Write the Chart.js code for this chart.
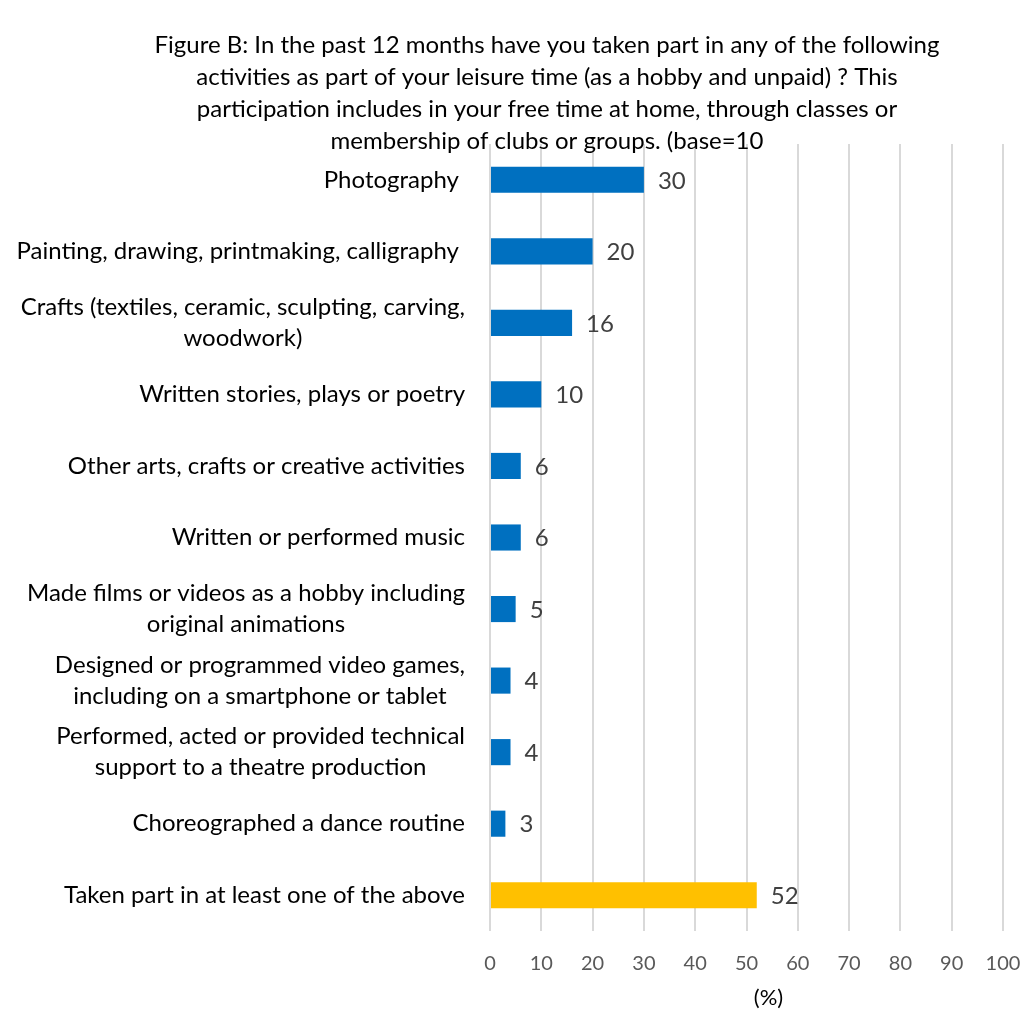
<!DOCTYPE html>
<html>
<head>
<meta charset="utf-8">
<script src="https://cdn.jsdelivr.net/npm/chart.js@4"></script>
<style>
  html, body { margin: 0; padding: 0; background: #fff; }
  #wrap { width: 1024px; height: 1017px; }
</style>
</head>
<body>
<div id="wrap"><canvas id="leisureChart" width="1024" height="1017"></canvas></div>
<script>
// categories (multi-line ones as arrays)
const categories = [
  "Photography ",
  "Painting, drawing, printmaking, calligraphy ",
  ["Crafts (textiles, ceramic, sculpting, carving,", "woodwork)"],
  "Written stories, plays or poetry",
  "Other arts, crafts or creative activities",
  "Written or performed music",
  ["Made films or videos as a hobby including", "original animations"],
  ["Designed or programmed video games,", "including on a smartphone or tablet"],
  ["Performed, acted or provided technical", "support to a theatre production"],
  "Choreographed a dance routine",
  "Taken part in at least one of the above"
];
const percentages = [30, 20, 16, 10, 6, 6, 5, 4, 4, 3, 52];
const barColours = ["#0070C0", "#0070C0", "#0070C0", "#0070C0", "#0070C0", "#0070C0",
  "#0070C0", "#0070C0", "#0070C0", "#0070C0", "#FFC000"];
const xTicks = [0, 10, 20, 30, 40, 50, 60, 70, 80, 90, 100];
const titleLines = [
  "Figure B: In the past 12 months have you taken part in any of the following",
  "activities as part of your leisure time (as a hobby and unpaid) ? This",
  "participation includes in your free time at home, through classes or",
  "membership of clubs or groups. (base=10"
];
const xTitle = "(%)";

const FONT = "Lato";

//draw category labels Excel-style: block right aligned, lines centred inside it
const categoryLabels = {
  id: 'categoryLabels',
  afterDraw(chart) {
    const ctx = chart.ctx;
    const yScale = chart.scales.y;
    const rightEdge = chart.chartArea.left - 25;
    ctx.save();
    ctx.font = "24px " + FONT;
    ctx.fillStyle = "#000000";
    ctx.textAlign = "center";
    ctx.textBaseline = "middle";
    categories.forEach((label, i) => {
      const lines = Array.isArray(label) ? label : [label];
      const w = Math.max(...lines.map(l => ctx.measureText(l).width));
      const cx = rightEdge - w / 2;
      const cy = yScale.getPixelForValue(i);
      lines.forEach((line, j) => {
        ctx.fillText(line, cx, cy + (j - (lines.length - 1) / 2) * 31);
      });
    });
    ctx.restore();
  }
};

//value labels just past the end of each bar
const valueLabels = {
  id: 'valueLabels',
  afterDatasetsDraw(chart) {
    const ctx = chart.ctx;
    const meta = chart.getDatasetMeta(0);
    ctx.save();
    ctx.font = "24px " + FONT;
    ctx.fillStyle = "#404040";
    ctx.textAlign = "left";
    ctx.textBaseline = "middle";
    meta.data.forEach((bar, i) => {
      ctx.fillText(String(percentages[i]), bar.x + 14, bar.y + 1);
    });
    ctx.restore();
  }
};

var ctx = document.getElementById('leisureChart').getContext('2d');
var chart = new Chart(ctx, {
  type: 'bar',
  data: {
    labels: categories,
    datasets: [{
      data: percentages,
      backgroundColor: barColours,
      borderWidth: 0,
      barPercentage: 0.365,
      categoryPercentage: 1.0
    }]
  },
  options: {
    indexAxis: 'y',
    responsive: false,
    animation: false,
    layout: { padding: { left: 91, right: 21, top: 0, bottom: 0 } },
    plugins: {
      legend: { display: false },
      tooltip: { enabled: false },
      title: {
        display: true,
        text: titleLines,
        color: "#000000",
        font: { family: FONT, size: 24, weight: 'normal', lineHeight: 32 / 24 },
        padding: { top: 29, bottom: -13 }
      }
    },
    scales: {
      x: {
        min: 0,
        max: 100,
        afterBuildTicks: (axis) => { axis.ticks = xTicks.map(v => ({ value: v })); },
        afterFit: (axis) => {
          axis.height = 86;
          axis.paddingLeft = 0;
          axis.paddingRight = 0;
        },
        grid: { color: "#D9D9D9", lineWidth: 2, drawTicks: false },
        border: { display: false },
        ticks: {
          color: "#595959",
          padding: 21,
          maxRotation: 0,
          font: { family: FONT, size: 20, lineHeight: 1.2 }
        },
        title: {
          display: true,
          text: "\u2002\u2002\u2002\u2002" + xTitle,  // nudged right like the original
          color: "#000000",
          font: { family: FONT, size: 22, lineHeight: 1.2 },
          padding: { top: 6, bottom: 6 }
        }
      },
      y: {
        grid: { display: false },
        border: { display: false },
        ticks: { display: false },
        afterFit: (axis) => { axis.width = 399; }
      }
    }
  },
  plugins: [categoryLabels, valueLabels]
});
</script>
</body>
</html>
